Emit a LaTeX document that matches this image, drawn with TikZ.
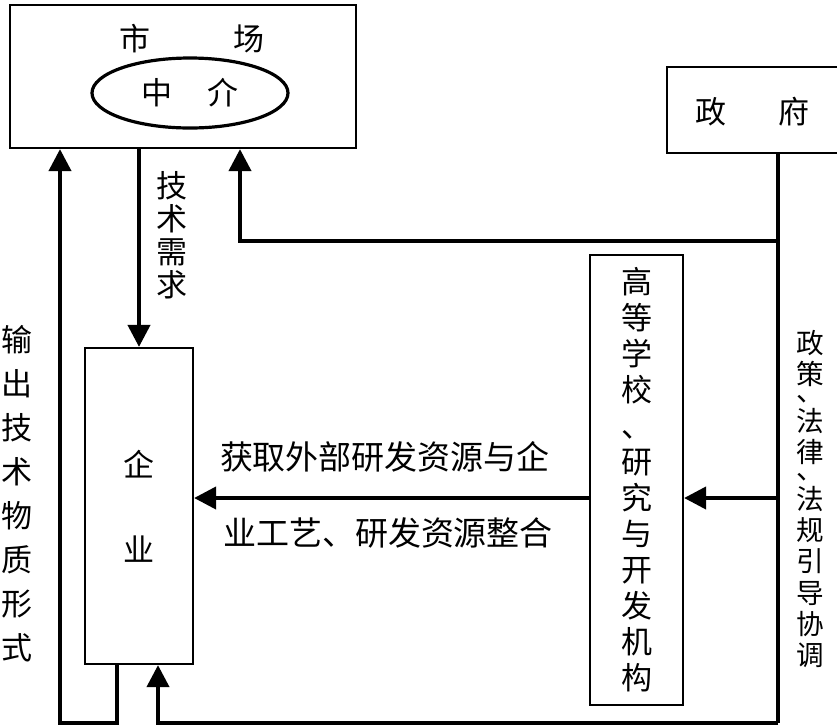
\documentclass[tikz,border=0pt]{standalone}
\usepackage{fontspec}
\setmainfont{Noto Sans CJK SC}
\usetikzlibrary{arrows.meta,positioning,shapes.geometric}
\tikzset{
  box/.style={draw,line width=1.1pt,inner sep=0pt},
  wire/.style={line width=2pt},
  arr/.style={wire,-{Triangle[length=11pt,width=11pt]}},
  lbl/.style={font=\fontsize{15.5pt}{18pt}\selectfont,inner sep=0pt},
  vlbl/.style={lbl,align=center},
}
\begin{document}
\begin{tikzpicture}[x=0.5pt,y=-0.5pt]
\useasboundingbox (0,0) rectangle (837,725);
% boxes
\node[box,minimum width=173pt,minimum height=71.5pt] (mkt) at (183,76.5) {};
\node[lbl] (mkttxt) at (192,39) {市\hspace{2.7em}场};
\node[draw,line width=1.6pt,ellipse,minimum width=98pt,minimum height=35pt,lbl] (agent) at (190,93) {中\hspace{1.15em}介};
\node[box,minimum width=88pt,minimum height=43pt] (gov) at (755,110) {};
\node[lbl] (govtxt) at (752.5,112) {政\hspace{1.7em}府};
\node[box,minimum width=54pt,minimum height=158pt,align=center,
      font=\fontsize{15.5pt}{42.5pt}\selectfont] (ent) at (139,506) {企\\业};
\node[box,minimum width=46.5pt,minimum height=225pt,align=center,
      font=\fontsize{15.5pt}{18pt}\selectfont] (univ) at (636.5,480)
  {高\\等\\学\\校\\、\\研\\究\\与\\开\\发\\机\\构};

% side texts
\node[vlbl,font=\fontsize{15.5pt}{22pt}\selectfont] (outlbl) at (17,494) {输\\出\\技\\术\\物\\质\\形\\式};
\node[vlbl,font=\fontsize{15.5pt}{16.5pt}\selectfont] (needlbl) at (172,235) {技\\术\\需\\求};
\node[vlbl,font=\fontsize{13.8pt}{15.6pt}\selectfont] (govlbl) at (810,499)
  {政\\策\\[-7pt]、\\[-0.8pt]法\\律\\[-7pt]、\\[-0.8pt]法\\规\\引\\导\\协\\调};
\node[lbl,font=\fontsize{16.5pt}{18pt}\selectfont] (res1) at (385,457) {获取外部研发资源与企};
\node[lbl,font=\fontsize{16.5pt}{18pt}\selectfont] (res2) at (388,533) {业工艺、研发资源整合};

% joints
\coordinate (gj) at (778,241);
\coordinate (gb) at (778,723);
\coordinate (mkr) at (240,241);
\coordinate (arry) at (700,498);
\coordinate (eb) at (158,723);
\coordinate (ea) at (117,723);
\coordinate (el) at (60,723);

% connectors
\draw[arr] (ent.north |- mkt.south) -- (ent.north);
\draw[wire] (gov.south -| gj) -- (gb);
\draw[arr] (gj) -- (mkr) -- (mkr |- mkt.south);
\draw[arr] (gj |- arry) -- (univ.east |- arry);
\draw[arr] (univ.west |- arry) -- (ent.east |- arry);
\draw[arr] (gb) -- (eb) -- (eb |- ent.south);
\draw[arr] (ent.south -| ea) -- (ea) -- (el) -- (el |- mkt.south);
\end{tikzpicture}
\end{document}
